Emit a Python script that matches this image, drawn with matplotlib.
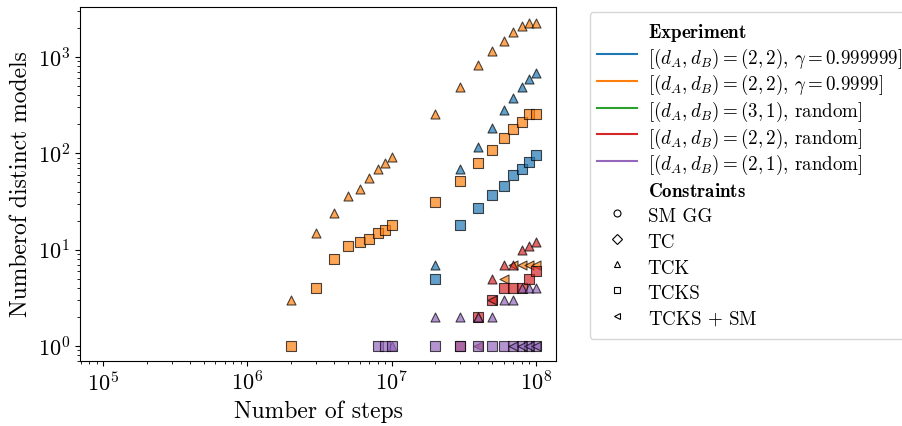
"""
Number of distinct models found vs number of steps, log-log
"""

import matplotlib
matplotlib.use('Agg')
import matplotlib.pyplot as plt
from matplotlib.lines import Line2D

plt.rcParams['font.family'] = 'cmr10'
plt.rcParams['mathtext.fontset'] = 'cm'
plt.rcParams['axes.unicode_minus'] = False
plt.rcParams['axes.formatter.use_mathtext'] = True

# steps
x_lo = [2e6, 3e6, 4e6, 5e6, 6e6, 7e6, 8e6, 9e6, 1e7]
x_hi = [2e7, 3e7, 4e7, 5e7, 6e7, 7e7, 8e7, 9e7, 1e8]

# (2,2), gamma = 0.999999 (blue)
blue_tck_x = x_hi
blue_tck = [7, 68, 117, 184, 283, 377, 490, 590, 680]
blue_tcks_x = x_hi
blue_tcks = [5, 18, 27, 37, 46, 59, 68, 82, 95]

# (2,2), gamma = 0.9999 (orange)
orange_tck_x = x_lo + x_hi
orange_tck = [3, 15, 24, 36, 43, 56, 69, 80, 92,
              257, 490, 826, 1150, 1460, 1820, 2090, 2230, 2230]
orange_tcks_x = x_lo + x_hi
orange_tcks = [1, 4, 8, 11, 12, 13, 15, 16, 18,
               31, 52, 80, 109, 145, 180, 213, 257, 257]
orange_sm_x = [6e7, 7e7, 8e7, 9e7, 1e8]
orange_sm = [5, 7, 7, 7, 7]

# (2,2), random (red)
red_tck_x = [4e7, 5e7, 6e7, 7e7, 8e7, 9e7, 1e8]
red_tck = [2, 5, 7, 7, 10, 11, 12]
red_tcks_x = [3e7, 4e7, 5e7, 6e7, 7e7, 8e7, 9e7, 1e8]
red_tcks = [1, 2, 3, 4, 4, 4, 5, 6]
red_sm_x = [4e7, 5e7]
red_sm = [1, 3]

# (2,1), random (purple)
purple_tck_x = [1e7] + x_hi
purple_tck = [1, 2, 2, 2, 2, 3, 3, 4, 4, 4]
purple_tcks_x = [8e6, 9e6, 1e7] + x_hi
purple_tcks = [1] * 12
purple_sm_x = [7e7, 8e7, 9e7, 1e8]
purple_sm = [1, 1, 1, 1]

experiments = [r'$[(d_A, d_B) = (2, 2),\, \gamma = 0.999999]$',
               r'$[(d_A, d_B) = (2, 2),\, \gamma = 0.9999]$',
               r'$[(d_A, d_B) = (3, 1),\, \mathrm{random}]$',
               r'$[(d_A, d_B) = (2, 2),\, \mathrm{random}]$',
               r'$[(d_A, d_B) = (2, 1),\, \mathrm{random}]$']
colors = ['tab:blue', 'tab:orange', 'tab:green', 'tab:red', 'tab:purple']
constraints = ['SM GG', 'TC', 'TCK', 'TCKS', r'TCKS $+$ SM']
markers = ['o', 'D', '^', 's', '<']

fig = plt.figure(figsize=(9.03, 4.26), dpi=100)
ax = fig.add_axes([0.0886, 0.1526, 0.527, 0.831])

kw = dict(s=42, alpha=0.7, edgecolors='black', linewidths=0.8)
series = [
    (blue_tck_x, blue_tck, colors[0], '^'),
    (blue_tcks_x, blue_tcks, colors[0], 's'),
    (orange_tck_x, orange_tck, colors[1], '^'),
    (orange_tcks_x, orange_tcks, colors[1], 's'),
    (orange_sm_x, orange_sm, colors[1], '<'),
    (red_tck_x, red_tck, colors[3], '^'),
    (red_tcks_x, red_tcks, colors[3], 's'),
    (red_sm_x, red_sm, colors[3], '<'),
    (purple_tck_x, purple_tck, colors[4], '^'),
    (purple_tcks_x, purple_tcks, colors[4], 's'),
    (purple_sm_x, purple_sm, colors[4], '<'),
]
for x, y, c, m in series:
    ax.scatter(x, y, color=c, marker=m, **kw)

ax.set_xscale('log')
ax.set_yscale('log')
ax.set_xlim(6.9e4, 1.38e8)
ax.set_ylim(0.70, 3300)
ax.tick_params(labelsize=16)
ax.set_xlabel('Number of steps', fontsize=17)
ax.set_ylabel('Numberof distinct models', fontsize=17)

blank = Line2D([], [], linestyle='none', marker='none')
handles = [blank]
labels = [r'$\mathbf{Experiment}$']
for lab, c in zip(experiments, colors):
    handles.append(Line2D([], [], color=c, lw=1.5))
    labels.append(lab)
handles.append(blank)
labels.append(r'$\mathbf{Constraints}$')
for lab, m in zip(constraints, markers):
    handles.append(Line2D([], [], color='black', marker=m, linestyle='none',
                          markerfacecolor='none', markersize=5, markeredgewidth=0.8))
    labels.append(lab)

fig.legend(handles, labels, loc='upper left', bbox_to_anchor=(0.653, 0.972),
           borderaxespad=0, fontsize=13.7, frameon=True, handlelength=2.1,
           handletextpad=0.55, handleheight=1.62, labelspacing=0.05)

plt.savefig('out.png', dpi=100)
